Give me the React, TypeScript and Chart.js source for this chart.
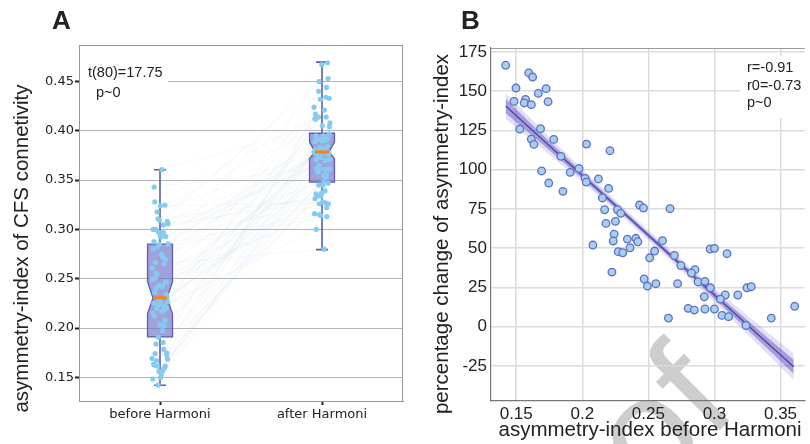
import React, { useEffect, useRef } from "react";
import { Chart, registerables } from "chart.js";
Chart.register(...registerables);

// ---------- data ----------
const categoriesA = ["before Harmoni", "after Harmoni"];
const yTicksA = [0.15, 0.2, 0.25, 0.3, 0.35, 0.4, 0.45];

const beforeValues = [0.142, 0.1595, 0.1624, 0.1498, 0.1726, 0.1667, 0.157, 0.1483, 0.156, 0.1614, 0.1741, 0.1527, 0.1684, 0.1614, 0.1784, 0.1634, 0.2032, 0.2209, 0.1838, 0.1975, 0.1692, 0.1908, 0.2022, 0.2122, 0.203, 0.1746, 0.2199, 0.1853, 0.2152, 0.2433, 0.2463, 0.2664, 0.2169, 0.2266, 0.2291, 0.2179, 0.2251, 0.2241, 0.2341, 0.2405, 0.242, 0.2607, 0.2234, 0.208, 0.2361, 0.2272, 0.2306, 0.2547, 0.2968, 0.3, 0.3095, 0.2697, 0.251, 0.2746, 0.2853, 0.2826, 0.2224, 0.2876, 0.2928, 0.2468, 0.2557, 0.2721, 0.2493, 0.297, 0.3246, 0.3279, 0.2923, 0.3082, 0.3177, 0.3045, 0.2801, 0.2848, 0.2928, 0.3, 0.3607, 0.3057, 0.3107, 0.2652, 0.343, 0.3239];

const afterValues = [0.378, 0.417, 0.421, 0.378, 0.434, 0.414, 0.384, 0.361, 0.378, 0.39, 0.424, 0.345, 0.381, 0.354, 0.391, 0.353, 0.44, 0.469, 0.383, 0.397, 0.337, 0.378, 0.393, 0.412, 0.39, 0.334, 0.414, 0.345, 0.392, 0.432, 0.433, 0.467, 0.379, 0.395, 0.395, 0.361, 0.376, 0.356, 0.365, 0.376, 0.373, 0.404, 0.345, 0.316, 0.355, 0.336, 0.339, 0.378, 0.444, 0.45, 0.453, 0.392, 0.361, 0.382, 0.389, 0.379, 0.3, 0.37, 0.377, 0.322, 0.326, 0.347, 0.314, 0.371, 0.405, 0.412, 0.348, 0.371, 0.382, 0.358, 0.313, 0.315, 0.326, 0.334, 0.408, 0.328, 0.331, 0.28, 0.362, 0.327];

const pctChange = [166.5, 161.6, 159, 152, 151.6, 148.6, 144.8, 143.5, 142.5, 141.4, 143.3, 125.9, 126.1, 119.5, 119.3, 116.1, 116.3, 112.1, 108.5, 100.8, 99.2, 98.3, 94.5, 94.1, 92.1, 91.5, 88.1, 86.2, 82, 77.5, 75.6, 75.2, 74.5, 74.5, 72.2, 65.8, 67.1, 59, 55.8, 56.3, 54.1, 54.8, 54.6, 52, 50.3, 47.8, 47.1, 48.2, 49.5, 49.9, 46.5, 45.4, 43.9, 39, 36.3, 34.2, 34.8, 28.5, 28.9, 30.4, 27.4, 27.4, 25.9, 24.8, 24.8, 25.5, 19.1, 20.2, 20.2, 17.6, 11.7, 10.6, 11.3, 11.3, 13, 7.2, 6.4, 5.5, 5.5, 0.8];

// box-plot statistics (before, after)
const boxQ1 = [0.191, 0.348];
const boxMedian = [0.2305, 0.3785];
const boxQ3 = [0.285, 0.3975];
const notchLow = [0.2146, 0.3717];
const notchHigh = [0.2468, 0.3885];
const whiskerLow = [0.1419, 0.2795];
const whiskerHigh = [0.3605, 0.4696];

const xTicksB = [0.15, 0.2, 0.25, 0.3, 0.35];
const xTickLabelsB = ["0.15", "0.2", "0.25", "0.3", "0.35"];
const yTicksB = [-25, 0, 25, 50, 75, 100, 125, 150, 175];

// regression line and its confidence band (panel B)
const regX = [0.142, 0.17, 0.2, 0.23, 0.25, 0.28, 0.31, 0.34, 0.36];
const regY = [140.5, 119.1, 96.3, 73.5, 58.2, 35.4, 12.5, -10.3, -25.5];
const bandInnerUp = [145, 122.1, 98.3, 75.1, 59.8, 37.2, 15, -6.8, -21];
const bandInnerLow = [136, 116.1, 94.3, 71.9, 56.6, 33.6, 10, -13.8, -30];
const bandOuterUp = [148.5, 125.1, 100.3, 76.7, 61.4, 39, 17.5, -3.3, -17];
const bandOuterLow = [132.5, 113.1, 92.3, 70.3, 55, 31.8, 7.5, -17.3, -34];

const statsA = ["t(80)=17.75", "p~0"];
const statsB = ["r=-0.91", "r0=-0.73", "p~0"];

// ---------- helpers ----------
const BOX_HALF = 0.077;
const NOTCH_HALF = 0.043;
const CAP_HALF = 0.037;
const jitter = (i: number, seed: number) => ((((i + 1) * seed) % 97) / 96 - 0.5) * 0.1;
const SANS = '"Liberation Sans", Arial, sans-serif';
const DEJAVU = '"DejaVu Sans", sans-serif';

const boxPlugin = {
  id: "boxPlugin",
  beforeDatasetDraw(chart: any, args: any) {
    if (args.index !== 1) return;
    const { ctx } = chart;
    const xs = chart.scales.x;
    const ys = chart.scales.y;
    ctx.save();
    for (let i = 0; i < 2; i++) {
      const xc = xs.getPixelForValue(i);
      const hw = xs.getPixelForValue(i + BOX_HALF) - xc;
      const nw = xs.getPixelForValue(i + NOTCH_HALF) - xc;
      const cw = xs.getPixelForValue(i + CAP_HALF) - xc;
      const q1 = ys.getPixelForValue(boxQ1[i]);
      const q3 = ys.getPixelForValue(boxQ3[i]);
      const md = ys.getPixelForValue(boxMedian[i]);
      const nl = ys.getPixelForValue(notchLow[i]);
      const nh = ys.getPixelForValue(notchHigh[i]);
      const wl = ys.getPixelForValue(whiskerLow[i]);
      const wh = ys.getPixelForValue(whiskerHigh[i]);
      ctx.strokeStyle = "#5a5eb6";
      ctx.lineWidth = 1.6;
      ctx.beginPath();
      ctx.moveTo(xc, q3); ctx.lineTo(xc, wh);
      ctx.moveTo(xc - cw, wh); ctx.lineTo(xc + cw, wh);
      ctx.moveTo(xc, q1); ctx.lineTo(xc, wl);
      ctx.moveTo(xc - cw, wl); ctx.lineTo(xc + cw, wl);
      ctx.stroke();
      ctx.beginPath();
      ctx.moveTo(xc - hw, q1);
      ctx.lineTo(xc - hw, nl);
      ctx.lineTo(xc - nw, md);
      ctx.lineTo(xc - hw, nh);
      ctx.lineTo(xc - hw, q3);
      ctx.lineTo(xc + hw, q3);
      ctx.lineTo(xc + hw, nh);
      ctx.lineTo(xc + nw, md);
      ctx.lineTo(xc + hw, nl);
      ctx.lineTo(xc + hw, q1);
      ctx.closePath();
      ctx.fillStyle = "rgba(112,112,200,0.66)";
      ctx.fill();
      ctx.lineWidth = 1.3;
      ctx.stroke();
    }
    ctx.restore();
  },
  afterDatasetsDraw(chart: any) {
    const { ctx } = chart;
    const xs = chart.scales.x;
    const ys = chart.scales.y;
    ctx.save();
    ctx.strokeStyle = "#ff7f0e";
    ctx.lineWidth = 3;
    for (let i = 0; i < 2; i++) {
      const xc = xs.getPixelForValue(i);
      const nw = xs.getPixelForValue(i + NOTCH_HALF) - xc;
      const md = ys.getPixelForValue(boxMedian[i]);
      ctx.beginPath();
      ctx.moveTo(xc - nw, md);
      ctx.lineTo(xc + nw, md);
      ctx.stroke();
    }
    // annotation box
    const a = chart.chartArea;
    ctx.fillStyle = "#fff";
    ctx.fillRect(a.left + 1, 58, 88, 44);
    ctx.fillStyle = "#222";
    ctx.font = "14.5px " + SANS;
    ctx.textBaseline = "middle";
    ctx.textAlign = "left";
    ctx.fillText(statsA[0], 88, 73);
    ctx.fillText(statsA[1], 96, 93);
    ctx.restore();
  },
  afterDraw(chart: any) {
    const { ctx } = chart;
    const a = chart.chartArea;
    ctx.save();
    ctx.strokeStyle = "#999";
    ctx.lineWidth = 1;
    ctx.beginPath();
    ctx.moveTo(a.left, a.top + 0.5);
    ctx.lineTo(a.right, a.top + 0.5);
    ctx.moveTo(a.right - 0.5, a.top);
    ctx.lineTo(a.right - 0.5, a.bottom);
    ctx.stroke();
    ctx.fillStyle = "#222";
    ctx.font = "bold 26px " + SANS;
    ctx.textAlign = "left";
    ctx.textBaseline = "alphabetic";
    ctx.fillText("A", 52, 29);
    ctx.font = "20.5px " + SANS;
    ctx.translate(28, 248.5);
    ctx.rotate(-Math.PI / 2);
    ctx.textAlign = "center";
    ctx.fillText("asymmetry-index of CFS connetivity", 0, 0);
    ctx.restore();
  },
};

const panelBPlugin = {
  id: "panelBPlugin",
  beforeDraw(chart: any) {
    const { ctx } = chart;
    ctx.save();
    ctx.fillStyle = "rgba(200,200,200,0.9)";
    ctx.font = "150px " + SANS;
    ctx.translate(330, 410);
    ctx.rotate(-Math.PI / 4);
    ctx.textAlign = "right";
    ctx.textBaseline = "alphabetic";
    ctx.fillText("Proof", 0, 0);
    ctx.restore();
  },
  afterDatasetsDraw(chart: any) {
    const { ctx } = chart;
    ctx.save();
    ctx.fillStyle = "#fff";
    ctx.fillRect(330, 56, 70, 62);
    ctx.fillStyle = "#222";
    ctx.font = "14.5px " + SANS;
    ctx.textBaseline = "middle";
    ctx.textAlign = "left";
    ctx.fillText(statsB[0], 337, 68);
    ctx.fillText(statsB[1], 337, 86);
    ctx.fillText(statsB[2], 337, 103);
    ctx.restore();
  },
  afterDraw(chart: any) {
    const { ctx } = chart;
    const a = chart.chartArea;
    ctx.save();
    ctx.strokeStyle = "#999";
    ctx.lineWidth = 1.2;
    ctx.beginPath();
    ctx.moveTo(a.left, a.top + 0.5);
    ctx.lineTo(a.right, a.top + 0.5);
    ctx.stroke();
    ctx.fillStyle = "#222";
    ctx.font = "bold 26px " + SANS;
    ctx.textAlign = "left";
    ctx.textBaseline = "alphabetic";
    ctx.fillText("B", 51, 29);
    ctx.font = "20.5px " + SANS;
    ctx.textAlign = "center";
    ctx.fillText("asymmetry-index before Harmoni", 240, 436);
    ctx.translate(38, 234);
    ctx.rotate(-Math.PI / 2);
    ctx.fillText("percentage change of asymmetry-index", 0, 0);
    ctx.restore();
  },
};

export default function App() {
  const refA = useRef<HTMLCanvasElement>(null);
  const refB = useRef<HTMLCanvasElement>(null);

  useEffect(() => {
    const lineSets = beforeValues.map((b, i) => ({
      type: "line" as const,
      data: [
        { x: jitter(i, 37), y: b },
        { x: 1 + jitter(i, 53), y: afterValues[i] },
      ],
      borderColor: "rgba(175,192,215,0.16)",
      borderWidth: 0.6,
      pointRadius: 0,
      fill: false,
      order: 2,
    }));
    const chartA = new Chart(refA.current!, {
      type: "scatter",
      data: {
        datasets: [
          {
            data: beforeValues.map((v, i) => ({ x: jitter(i, 37), y: v })),
            backgroundColor: "#86cbef",
            borderWidth: 0,
            pointRadius: 2.6,
            order: 0,
          },
          {
            data: afterValues.map((v, i) => ({ x: 1 + jitter(i, 53), y: v })),
            backgroundColor: "#86cbef",
            borderWidth: 0,
            pointRadius: 2.6,
            order: 0,
          },
          ...lineSets,
        ] as any,
      },
      options: {
        animation: false,
        responsive: false,
        layout: { padding: { top: 45, right: 7, left: 0, bottom: 0 } },
        plugins: { legend: { display: false }, tooltip: { enabled: false } },
        scales: {
          x: {
            type: "linear",
            min: -0.5,
            max: 1.5,
            afterBuildTicks: (s: any) => {
              s.ticks = [{ value: 0 }, { value: 1 }];
            },
            afterFit: (s: any) => {
              s.height = 43;
            },
            ticks: {
              callback: (v: any) => categoriesA[v] ?? "",
              font: { family: DEJAVU, size: 13 },
              color: "#222",
              padding: 2,
              maxRotation: 0,
              autoSkip: false,
            },
            grid: { drawOnChartArea: false, drawTicks: true, tickLength: 4, tickColor: "#222", tickWidth: 2 },
            border: { color: "#999" },
          },
          y: {
            type: "linear",
            min: 0.126,
            max: 0.487,
            afterBuildTicks: (s: any) => {
              s.ticks = yTicksA.map((v) => ({ value: v }));
            },
            afterFit: (s: any) => {
              s.width = 79;
            },
            ticks: {
              callback: (v: any) => Number(v).toFixed(2),
              font: { family: DEJAVU, size: 13 },
              color: "#222",
              padding: 1,
            },
            grid: { color: "#b4b4b4", lineWidth: 1, tickLength: 4, tickColor: "#222", tickWidth: 2 },
            border: { color: "#999" },
          },
        },
      } as any,
      plugins: [boxPlugin],
    });

    const xy = (xs: number[], ys: number[]) => xs.map((x, i) => ({ x, y: ys[i] }));
    const chartB = new Chart(refB.current!, {
      type: "scatter",
      data: {
        datasets: [
          {
            data: beforeValues.map((x, i) => ({ x, y: pctChange[i] })),
            backgroundColor: "#a9cdec",
            borderColor: "#5b70c6",
            borderWidth: 1.3,
            pointRadius: 3.8,
            order: 0,
          },
          {
            type: "line",
            data: xy(regX, regY),
            borderColor: "#4a4aa6",
            borderWidth: 1.4,
            pointRadius: 0,
            fill: false,
            order: 1,
          },
          {
            type: "line",
            data: xy(regX, bandInnerUp),
            borderWidth: 0,
            pointRadius: 0,
            backgroundColor: "rgba(90,75,190,0.45)",
            fill: "+1",
            order: 2,
          },
          {
            type: "line",
            data: xy(regX, bandInnerLow),
            borderWidth: 0,
            pointRadius: 0,
            fill: false,
            order: 2,
          },
          {
            type: "line",
            data: xy(regX, bandOuterUp),
            borderWidth: 0,
            pointRadius: 0,
            backgroundColor: "rgba(115,100,210,0.2)",
            fill: "+1",
            order: 3,
          },
          {
            type: "line",
            data: xy(regX, bandOuterLow),
            borderWidth: 0,
            pointRadius: 0,
            fill: false,
            order: 3,
          },
        ] as any,
      },
      options: {
        animation: false,
        responsive: false,
        layout: { padding: { top: 48, right: 0, left: 0, bottom: 0 } },
        plugins: { legend: { display: false }, tooltip: { enabled: false } },
        scales: {
          x: {
            type: "linear",
            min: 0.1309,
            max: 0.3683,
            afterBuildTicks: (s: any) => {
              s.ticks = xTicksB.map((v) => ({ value: v }));
            },
            afterFit: (s: any) => {
              s.height = 43;
            },
            ticks: {
              callback: (_v: any, i: number) => xTickLabelsB[i],
              font: { family: SANS, size: 17 },
              color: "#222",
              padding: 3,
              maxRotation: 0,
              autoSkip: false,
            },
            grid: { color: "#dcdcdc", lineWidth: 1.5, drawTicks: false },
            border: { color: "#777", width: 1.2 },
          },
          y: {
            type: "linear",
            min: -47.3,
            max: 177.5,
            afterBuildTicks: (s: any) => {
              s.ticks = yTicksB.map((v) => ({ value: v }));
            },
            afterFit: (s: any) => {
              s.width = 81;
            },
            ticks: {
              callback: (v: any) => String(v),
              font: { family: SANS, size: 17 },
              color: "#222",
              padding: 4,
            },
            grid: { color: "#dcdcdc", lineWidth: 1.5, drawTicks: false },
            border: { color: "#777", width: 1.2 },
          },
        },
      } as any,
      plugins: [panelBPlugin],
    });

    return () => {
      chartA.destroy();
      chartB.destroy();
    };
  }, []);

  return (
    <div style={{ position: "fixed", left: 0, top: 0, width: 810, height: 444, background: "#fff", overflow: "hidden" }}>
      <canvas ref={refA} width={410} height={444} style={{ position: "absolute", left: 0, top: 0, width: 410, height: 444 }} />
      <canvas ref={refB} width={400} height={444} style={{ position: "absolute", left: 410, top: 0, width: 400, height: 444 }} />
    </div>
  );
}
